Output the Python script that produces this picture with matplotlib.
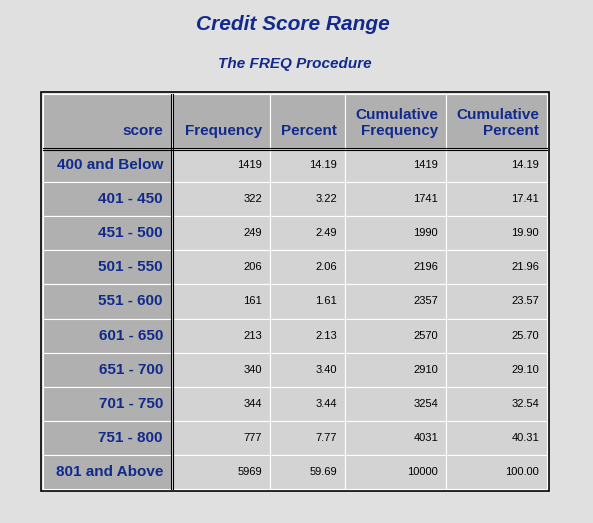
import matplotlib
matplotlib.use("Agg")
import matplotlib.pyplot as plt
from matplotlib.patches import Rectangle

categories = ["400 and Below","401 - 450","451 - 500","501 - 550","551 - 600",
              "601 - 650","651 - 700","701 - 750","751 - 800","801 and Above"]
frequency = [1419,322,249,206,161,213,340,344,777,5969]
percent = [14.19,3.22,2.49,2.06,1.61,2.13,3.40,3.44,7.77,59.69]
cum_freq = [1419,1741,1990,2196,2357,2570,2910,3254,4031,10000]
cum_pct = [14.19,17.41,19.90,21.96,23.57,25.70,29.10,32.54,40.31,100.00]
headers = ["score","Frequency","Percent","Cumulative\nFrequency","Cumulative\nPercent"]

BLUE = "#112A8C"
fig = plt.figure(figsize=(5.93,5.23), dpi=100, facecolor="#E0E0E0")
ax = fig.add_axes([0,0,1,1]); ax.set_xlim(0,593); ax.set_ylim(523,0); ax.axis("off")

ax.text(293,24,"Credit Score Range",ha="center",va="center",fontsize=15,
        fontweight="bold",style="italic",color=BLUE,family="Liberation Sans")
ax.text(295,64,"The FREQ Procedure",ha="center",va="center",fontsize=11,
        fontweight="bold",style="italic",color=BLUE,family="Liberation Sans")

ax.add_patch(Rectangle((41,92),508,399,fill=False,ec="black",lw=1.2))
cols = [43,171,270,345,446,547]
y0, hh, rh = 94, 54, 34.1
# header
for i,h in enumerate(headers):
    x1 = cols[i]+(2 if i==1 else 0); x2 = cols[i+1]
    ax.add_patch(Rectangle((x1,y0),x2-x1,hh,fc="#B0B0B0",ec="white",lw=0.8))
    ax.text(x2-8,y0+hh-10,h,ha="right",va="bottom",fontsize=11,fontweight="bold",
            color=BLUE,family="Liberation Sans",linespacing=1.15)
for r,cat in enumerate(categories):
    y = y0+hh+r*rh
    ax.add_patch(Rectangle((43,y),128,rh,fc="#B0B0B0",ec="white",lw=0.8))
    ax.text(163,y+rh/2,cat,ha="right",va="center",fontsize=11,fontweight="bold",
            color=BLUE,family="Liberation Sans")
    vals = [f"{frequency[r]}",f"{percent[r]:.2f}",f"{cum_freq[r]}",f"{cum_pct[r]:.2f}"]
    for c,v in enumerate(vals):
        x1 = cols[c+1]+(2 if c==0 else 0); x2 = cols[c+2]
        ax.add_patch(Rectangle((x1,y),x2-x1,rh,fc="#D3D3D3",ec="white",lw=0.8))
        ax.text(x2-8,y+rh/2,v,ha="right",va="center",fontsize=8,color="black",
                family="Liberation Sans")
ax.plot([171,171],[94,489],color="black",lw=0.8)
ax.plot([173,173],[94,489],color="black",lw=0.8)
ax.plot([43,547],[148,148],color="black",lw=0.8)
ax.plot([43,547],[150,150],color="black",lw=0.8)
fig.savefig("out.png",dpi=100,facecolor=fig.get_facecolor())
